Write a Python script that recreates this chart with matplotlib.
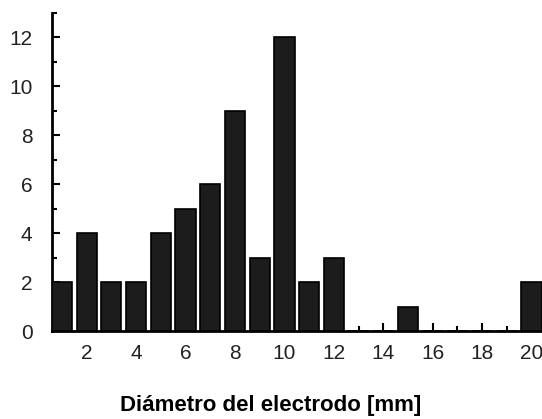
import numpy as np
import matplotlib.pyplot as plt
from matplotlib.ticker import MultipleLocator

plt.rcParams['font.family'] = ['Liberation Sans', 'DejaVu Sans']

diametro = [1, 2, 3, 4, 5, 6, 7, 8, 9, 10, 11, 12, 13, 14, 15, 16, 17, 18, 19, 20]
cantidad = [2, 4, 2, 2, 4, 5, 6, 9, 3, 12, 2, 3, 0, 0, 1, 0, 0, 0, 0, 2]
xticks = [2, 4, 6, 8, 10, 12, 14, 16, 18, 20]
yticks = [0, 2, 4, 6, 8, 10, 12]

fig = plt.figure(figsize=(5.42, 4.19), dpi=100)
ax = fig.add_axes([0.096, 0.21, 0.904, 0.759])

ax.bar(diametro, cantidad, width=0.82, color='#1c1c1c', edgecolor='black', linewidth=1.2, zorder=3)

ax.set_xlim(0.6, 20.42)
ax.set_ylim(0, 13)
ax.set_xticks(xticks)
ax.set_yticks(yticks)
ax.xaxis.set_minor_locator(MultipleLocator(1))
ax.yaxis.set_minor_locator(MultipleLocator(1))
ax.tick_params(axis='both', which='major', direction='in', length=6, width=1.5, labelsize=15, colors='black')
ax.tick_params(axis='both', which='minor', direction='in', length=3.5, width=1.5)
ax.tick_params(axis='x', which='major', pad=9)
ax.tick_params(axis='y', which='major', pad=14)
for lab in ax.get_xticklabels() + ax.get_yticklabels():
    lab.set_color('#222222')

ax.spines['top'].set_visible(False)
ax.spines['right'].set_visible(False)
ax.spines['left'].set_linewidth(2)
ax.spines['bottom'].set_linewidth(2)

fig.text(0.5, 0.033, 'Diámetro del electrodo [mm]', ha='center', va='center', fontsize=16, fontweight='bold')

plt.savefig('out.png', dpi=100)
